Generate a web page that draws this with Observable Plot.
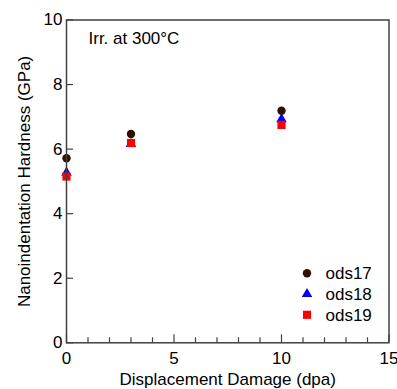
<!DOCTYPE html>
<html><head><meta charset="utf-8">
<script src="https://cdn.jsdelivr.net/npm/d3@7"></script>
<script src="https://cdn.jsdelivr.net/npm/@observablehq/plot@0.6"></script>
<style>html,body{margin:0;padding:0;background:#fff}</style>
</head><body><div id="chart"></div>
<script>
const dpa = [0, 3, 10];
const ods17 = [5.72, 6.47, 7.19];
const ods18 = [5.27, 6.16, 6.93];
const ods19 = [5.15, 6.19, 6.75];
const seriesNames = ["ods17", "ods18", "ods19"];
const seriesValues = [ods17, ods18, ods19];
const seriesColors = ["#2e1200", "#0000ff", "#ff0000"];
const seriesSymbols = ["circle", "triangle", "square"];
const seriesRadius = [4.2, 3.9, 4.6];
const xTicks = [0, 5, 10, 15];
const xMinorTicks = [1, 2, 3, 4, 6, 7, 8, 9, 11, 12, 13, 14];
const yTicks = [0, 2, 4, 6, 8, 10];
const titleText = "Irr. at 300°C";
const xLabel = "Displacement Damage (dpa)";
const yLabel = "Nanoindentation Hardness (GPa)";

const axisColor = "#404040";
const marks = [];

// axis ticks (inward)
marks.push(Plot.axisY(yTicks, {tickSize: 7, dx: 7, fill: "none", stroke: axisColor, strokeWidth: 1.2, label: null}));
marks.push(Plot.axisX(xTicks, {tickSize: 8, dy: -8, fill: "none", stroke: axisColor, strokeWidth: 1.2, label: null}));
marks.push(Plot.axisX(xMinorTicks, {tickSize: 5, dy: -5, fill: "none", stroke: axisColor, strokeWidth: 1.2, label: null}));
// tick labels
marks.push(Plot.axisY(yTicks, {tickSize: 0, tickPadding: 4, fill: "#000", label: null}));
marks.push(Plot.axisX(xTicks, {tickSize: 0, tickPadding: 9, fill: "#000", label: null}));

// data
seriesNames.forEach((name, i) => {
  const rows = dpa.map((x, j) => ({x, y: seriesValues[i][j], s: name}));
  marks.push(Plot.dot(rows, {x: "x", y: "y", symbol: () => seriesSymbols[i], r: seriesRadius[i],
    fill: seriesColors[i], stroke: "none"}));
});

// legend
seriesNames.forEach((name, i) => {
  const dy = -69.6 + i * 20.8;
  marks.push(Plot.dot([name], {frameAnchor: "bottom-right", dx: -82, dy, symbol: () => seriesSymbols[i],
    r: seriesRadius[i], fill: seriesColors[i], stroke: "none"}));
  marks.push(Plot.text([name], {text: d => d, frameAnchor: "bottom-right", dx: -63.5, dy: dy + 0.5,
    textAnchor: "start", lineAnchor: "middle", fill: "#000", fontSize: 17}));
});

// title & labels
marks.push(Plot.text([titleText], {text: d => d, frameAnchor: "top-left", dx: 22, dy: 18.4,
  textAnchor: "start", lineAnchor: "middle", fill: "#000", fontSize: 17}));
marks.push(Plot.text([xLabel], {text: d => d, frameAnchor: "bottom", dy: 36.3,
  textAnchor: "middle", lineAnchor: "middle", fill: "#000", fontSize: 17}));
marks.push(Plot.text([yLabel], {text: d => d, frameAnchor: "left", dx: -41.5, rotate: -90,
  textAnchor: "middle", lineAnchor: "middle", fill: "#000", fontSize: 17}));

marks.push(Plot.frame({stroke: axisColor, strokeWidth: 1.5}));

const chart = Plot.plot({
  width: 397,
  height: 389,
  marginLeft: 66,
  marginRight: 8.5,
  marginTop: 19.5,
  marginBottom: 46.7,
  x: {domain: [0, 15], axis: null},
  y: {domain: [0, 10], axis: null},
  style: {fontFamily: "'Liberation Sans', Arial, sans-serif", fontSize: "17px", color: "#000", background: "#fff", overflow: "visible"},
  marks
});
document.getElementById("chart").appendChild(chart);
</script>
</body></html>
